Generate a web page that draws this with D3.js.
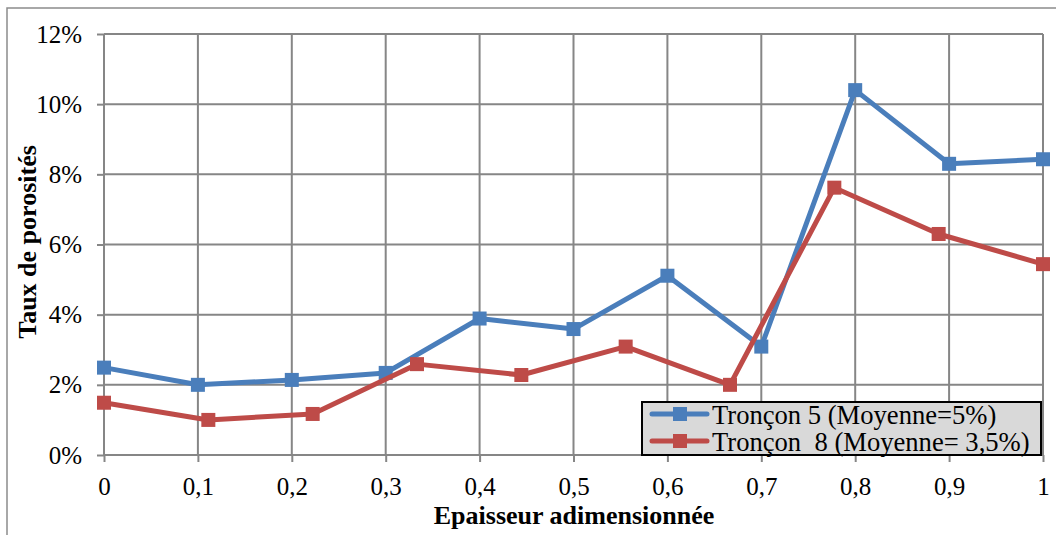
<!DOCTYPE html>
<html>
<head>
<meta charset="utf-8">
<script src="https://cdn.jsdelivr.net/npm/d3@7"></script>
<style>
  html, body { margin: 0; padding: 0; background: #fff; }
  svg { display: block; }
  svg text { font-family: "Liberation Serif", "Times New Roman", Times, serif; fill: #000; }
</style>
</head>
<body>
<svg id="chart" width="1056" height="535"></svg>
<script>
// Porosity profiles along the normalised thickness
const xTicks = [0, 0.1, 0.2, 0.3, 0.4, 0.5, 0.6, 0.7, 0.8, 0.9, 1];
const yTicks = [0, 0.02, 0.04, 0.06, 0.08, 0.10, 0.12];

const troncon5X = [0, 0.1, 0.2, 0.3, 0.4, 0.5, 0.6, 0.7, 0.8, 0.9, 1];
const troncon5Y = [0.0249, 0.0200, 0.0214, 0.0234, 0.0389, 0.0359, 0.0511, 0.0309, 0.1040, 0.0830, 0.0843];

const troncon8X = [0, 1/9, 2/9, 3/9, 4/9, 5/9, 6/9, 7/9, 8/9, 1];
const troncon8Y = [0.0149, 0.0100, 0.0117, 0.0259, 0.0228, 0.0309, 0.0200, 0.0762, 0.0630, 0.0544];

const seriesNames = ["Tronçon 5 (Moyenne=5%)", "Tronçon  8 (Moyenne= 3,5%)"];
const seriesColors = ["#4a7ebb", "#be4b48"];

const FONT = "'Liberation Serif', 'Times New Roman', Times, serif";

const svg = d3.select("#chart");
const margin = { left: 104, right: 1043, top: 34, bottom: 455 };

const x = d3.scaleLinear().domain([0, 1]).range([margin.left, margin.right]);
const y = d3.scaleLinear().domain([0, 0.12]).range([margin.bottom, margin.top]);

// Outer frame (top and left edges)
svg.append("path")
  .attr("d", "M7,535 V8 H1056")
  .attr("fill", "none")
  .attr("stroke", "#8c8c8c")
  .attr("stroke-width", 1.5);

// Gridlines
const grid = svg.append("g");
grid.selectAll("line.h").data(yTicks).join("line")
  .attr("x1", margin.left).attr("x2", margin.right)
  .attr("y1", d => y(d)).attr("y2", d => y(d))
  .attr("stroke", "#868686").attr("stroke-width", 2);
grid.selectAll("line.v").data(xTicks).join("line")
  .attr("y1", margin.top).attr("y2", margin.bottom)
  .attr("x1", d => x(d)).attr("x2", d => x(d))
  .attr("stroke", "#868686").attr("stroke-width", 2);

// Axes
const fmtX = d => d3.format("~g")(d).replace(".", ",");
const xAxis = svg.append("g")
  .attr("transform", `translate(0,${margin.bottom})`)
  .call(d3.axisBottom(x).tickValues(xTicks).tickSize(7).tickPadding(15).tickFormat(fmtX));
const yAxis = svg.append("g")
  .attr("transform", `translate(${margin.left},0)`)
  .call(d3.axisLeft(y).tickValues(yTicks).tickSize(7).tickPadding(15).tickFormat(d => Math.round(d * 100) + "%"));

[xAxis, yAxis].forEach(a => {
  a.attr("font-family", FONT).attr("font-size", 25);
  a.select(".domain").remove();
  a.selectAll(".tick line").attr("stroke", "#868686").attr("stroke-width", 2);
  a.selectAll(".tick text").style("font-family", FONT).style("font-size", "25px").attr("fill", "#000");
});
xAxis.selectAll(".tick text").attr("dy", "0.71em");

// Axis titles
svg.append("text")
  .attr("x", 574).attr("y", 524)
  .attr("text-anchor", "middle")
  .style("font-family", FONT)
  .style("font-size", "26px").style("font-weight", "bold")
  .text("Epaisseur adimensionnée");
svg.append("text")
  .attr("transform", "translate(36,242) rotate(-90)")
  .attr("text-anchor", "middle")
  .style("font-family", FONT)
  .style("font-size", "26px").style("font-weight", "bold")
  .text("Taux de porosités");

// Series
const series = [
  { xs: troncon5X, ys: troncon5Y, color: seriesColors[0], name: seriesNames[0] },
  { xs: troncon8X, ys: troncon8Y, color: seriesColors[1], name: seriesNames[1] }
];
const line = d3.line().x(d => x(d[0])).y(d => y(d[1]));
const ms = 14;

series.forEach(s => {
  const pts = s.xs.map((v, i) => [v, s.ys[i]]);
  svg.append("path")
    .datum(pts)
    .attr("d", line)
    .attr("fill", "none")
    .attr("stroke", s.color)
    .attr("stroke-width", 5)
    .attr("stroke-linejoin", "round");
  svg.append("g").selectAll("rect").data(pts).join("rect")
    .attr("x", d => x(d[0]) - ms / 2)
    .attr("y", d => y(d[1]) - ms / 2)
    .attr("width", ms).attr("height", ms)
    .attr("fill", s.color);
});

// Legend
const legend = svg.append("g");
legend.append("rect")
  .attr("x", 642).attr("y", 402)
  .attr("width", 399).attr("height", 53)
  .attr("fill", "#d9d9d9")
  .attr("stroke", "#000").attr("stroke-width", 2);
series.forEach((s, i) => {
  const cy = 414 + i * 27;
  legend.append("line")
    .attr("x1", 652).attr("x2", 707)
    .attr("y1", cy).attr("y2", cy)
    .attr("stroke", s.color).attr("stroke-width", 5)
    .attr("stroke-linecap", "round");
  legend.append("rect")
    .attr("x", 680 - ms / 2).attr("y", cy - ms / 2)
    .attr("width", ms).attr("height", ms)
    .attr("fill", s.color);
  legend.append("text")
    .attr("x", 712).attr("y", cy + 10)
    .style("font-family", FONT)
    .style("font-size", "26.6px")
    .style("white-space", "pre")
    .text(s.name);
});
</script>
</body>
</html>
